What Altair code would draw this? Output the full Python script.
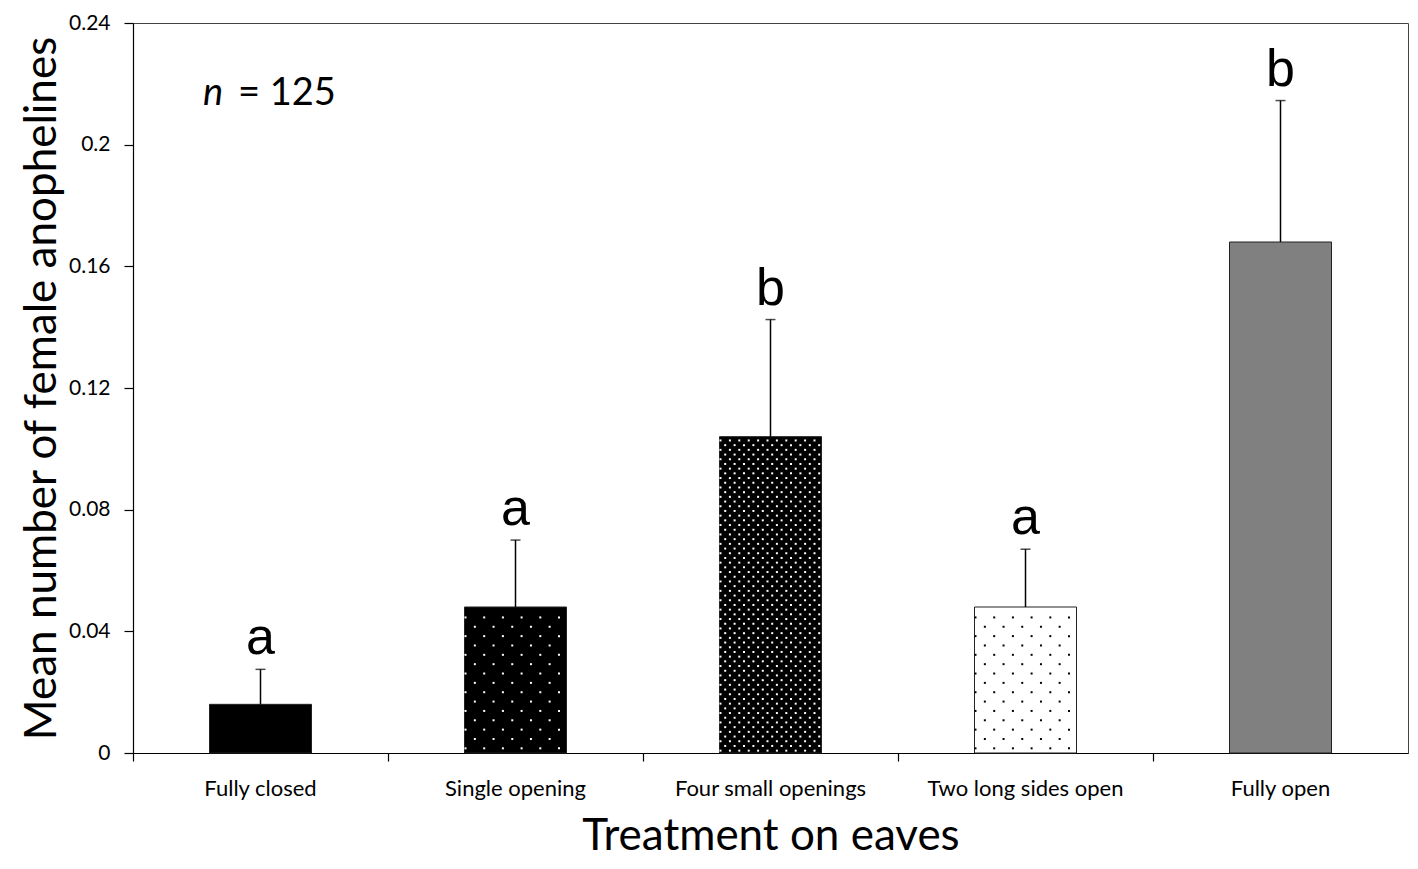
import altair as alt
import pandas as pd

# ---- data ----
categories = ["Fully closed", "Single opening", "Four small openings",
              "Two long sides open", "Fully open"]
means = [0.016, 0.048, 0.104, 0.048, 0.168]
upper = [0.0275, 0.070, 0.1425, 0.067, 0.2145]
letters = ["a", "a", "b", "a", "b"]
y_ticks = [0, 0.04, 0.08, 0.12, 0.16, 0.2, 0.24]

# ---- styles (fills and dotted textures) ----
fills = ["#000000", "#000000", "#000000", "#ffffff", "#808080"]
dot_colors = ["none", "#ffffff", "#ffffff", "#000000", "none"]
dot_dx = [0, 18.7, 9.4, 18.7, 0]
dot_dy = [0, 9.35, 4.7, 9.35, 0]

W, H = 1275, 730
YMAX = 0.24
STEP = W / len(categories)
BAR_PX = 0.4 * STEP
PX = YMAX / H
FONT = "Lato"
YT = "Mean number of female anophelines"
XT = "Treatment on eaves"

df = pd.DataFrame({
    "cat": categories, "mean": means, "upper": upper, "letter": letters,
    "fill": fills, "dotcolor": dot_colors, "dx": dot_dx, "dy": dot_dy,
    "idx": list(range(len(categories))),
})

yscale = alt.Scale(domain=[0, YMAX], nice=False, zero=True)
yaxis = alt.Axis(values=y_ticks, format=".2~f", tickSize=9, labelPadding=14,
                 labelFontSize=21, titleFontSize=44, titlePadding=4)
xscale = alt.Scale(paddingInner=0.6, paddingOuter=0.3)
xaxis = alt.Axis(bandPosition=-0.75, tickSize=8, labelPadding=17, labelAngle=0,
                 labelLimit=400, labelFontSize=22, titleFontSize=44, titlePadding=15)


def X():
    return alt.X("cat:N", sort=categories, scale=xscale, axis=xaxis, title=XT)


def Y(field):
    return alt.Y(field, scale=yscale, axis=yaxis, title=YT)


base = alt.Chart(df)
bars = base.mark_bar(stroke="#222222", strokeWidth=1).encode(
    x=X(), y=Y("mean:Q"), fill=alt.Fill("fill:N", scale=None))
err = base.mark_rule(color="black", strokeWidth=1.5).encode(
    x=X(), y=Y("mean:Q"), y2="upper:Q")
cap = base.mark_tick(color="black", size=10, thickness=1.5,
                     orient="horizontal").encode(x=X(), y=Y("upper:Q"))
lett = base.mark_text(font="Liberation Sans", fontSize=52, baseline="alphabetic",
                      dy=-15, color="black").encode(
    x=X(), y=Y("upper:Q"), text="letter:N")

group = alt.layer(bars, err, cap, lett)

dots = alt.Chart(df).transform_filter("datum.dx > 0").transform_calculate(
    rows=f"sequence(0, floor(datum.mean / (datum.dy * {PX})))",
    cols=f"sequence(0, ceil({BAR_PX} / datum.dx) + 1)",
).transform_flatten(["rows"]).transform_flatten(["cols"]).transform_calculate(
    off="datum.cols * datum.dx + (datum.rows % 2) * datum.dx / 2 + 1"
).transform_filter(f"datum.off < {BAR_PX - 1}").transform_calculate(
    xq=f"datum.idx + 0.3 + datum.off / {STEP}",
    yq=f"(datum.rows + 0.5) * datum.dy * {PX}",
).mark_square(size=4, strokeWidth=0, opacity=1).encode(
    x=alt.X("xq:Q", scale=alt.Scale(domain=[0, len(categories)], nice=False, zero=False),
            axis=None),
    y=Y("yq:Q"),
    color=alt.Color("dotcolor:N", scale=None),
)

n_df = pd.DataFrame({"t": ["n"]})
v_df = pd.DataFrame({"t": ["= 125"]})
n_txt = alt.Chart(n_df).mark_text(font=FONT, fontSize=38, fontStyle="italic",
                                  align="left", baseline="alphabetic").encode(
    x=alt.value(70), y=alt.value(82), text="t:N")
v_txt = alt.Chart(v_df).mark_text(font=FONT, fontSize=38, align="left",
                                  baseline="alphabetic").encode(
    x=alt.value(105), y=alt.value(82), text="t:N")

chart = alt.layer(group, dots, n_txt, v_txt).resolve_scale(x="independent").properties(
    width=W, height=H,
    autosize=alt.AutoSizeParams(type="none"),
    padding={"left": 125, "top": 15, "right": 2, "bottom": 108},
).configure_view(stroke="#444444", strokeWidth=1).configure_axis(
    domainColor="black", tickColor="black", labelColor="black", titleColor="black",
    grid=False, labelFont=FONT, titleFont=FONT, titleFontWeight="normal",
    domainWidth=1.2, tickWidth=1.2,
)

chart.save("out.html", embed_options={"renderer": "svg", "actions": False})
